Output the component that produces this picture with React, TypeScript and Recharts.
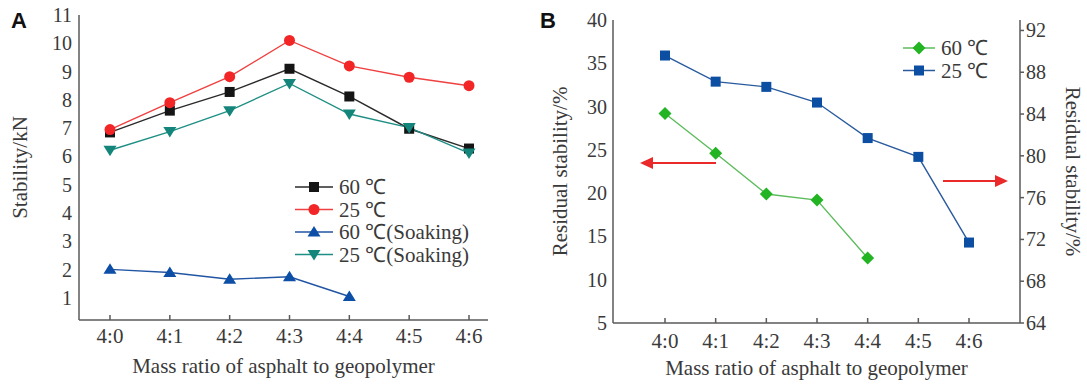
import React from "react";
import { LineChart, Line, XAxis, YAxis, Legend } from "recharts";

// mass ratio asphalt : geopolymer
const ratios = ["4:0", "4:1", "4:2", "4:3", "4:4", "4:5", "4:6"];

// panel A, stability in kN
const stab60 = [6.85, 7.62, 8.28, 9.1, 8.12, 6.98, 6.28];
const stab25 = [6.95, 7.9, 8.82, 10.1, 9.2, 8.8, 8.5];
const stab60Soak = [2.01, 1.9, 1.66, 1.75, 1.05, null, null];
const stab25Soak = [6.22, 6.88, 7.62, 8.58, 7.5, 7.02, 6.12];
const stabTicks = [1, 2, 3, 4, 5, 6, 7, 8, 9, 10, 11];

// panel B, residual stability in %
const resid60 = [29.2, 24.6, 19.9, 19.2, 12.5, null, null];
const resid25 = [89.6, 87.1, 86.6, 85.1, 81.7, 79.9, 71.7];
const residLeftTicks = [5, 10, 15, 20, 25, 30, 35, 40];
const residRightTicks = [64, 68, 72, 76, 80, 84, 88, 92];

const dataA = ratios.map((r, i) => ({
  ratio: r,
  s60: stab60[i],
  s25: stab25[i],
  s60s: stab60Soak[i],
  s25s: stab25Soak[i],
}));

const dataB = ratios.map((r, i) => ({
  ratio: r,
  r60: resid60[i],
  r25: resid25[i],
}));

const FONT = '"Liberation Serif", "Times New Roman", serif';
const TXT = "#3a3a3a";
const AXIS = "#5a5a5a";
const serif = { fontFamily: FONT };

type Shape = "square" | "circle" | "up" | "down" | "diamond";

function marker(shape: Shape, cx: number, cy: number, fill: string, size = 10) {
  const h = size / 2;
  switch (shape) {
    case "square":
      return <rect x={cx - h} y={cy - h} width={size} height={size} fill={fill} />;
    case "circle":
      return <circle cx={cx} cy={cy} r={h + 0.5} fill={fill} />;
    case "up":
      return (
        <polygon
          points={`${cx},${cy - h - 1} ${cx - h - 1.5},${cy + h - 0.5} ${cx + h + 1.5},${cy + h - 0.5}`}
          fill={fill}
        />
      );
    case "down":
      return (
        <polygon
          points={`${cx},${cy + h + 1} ${cx - h - 1.5},${cy - h + 0.5} ${cx + h + 1.5},${cy - h + 0.5}`}
          fill={fill}
        />
      );
    default:
      return (
        <polygon
          points={`${cx},${cy - h - 1.5} ${cx + h + 1.5},${cy} ${cx},${cy + h + 1.5} ${cx - h - 1.5},${cy}`}
          fill={fill}
        />
      );
  }
}

const dotOf = (shape: Shape, fill: string, size?: number) => (p: any) => {
  const { cx, cy, index } = p;
  if (cx == null || cy == null || p.value == null || Number.isNaN(cy)) return <g key={`e${index}`} />;
  return <g key={`d${index}`}>{marker(shape, cx, cy, fill, size)}</g>;
};

interface Series {
  key: string;
  name: string;
  line: string;
  fill: string;
  shape: Shape;
  size?: number;
}

const seriesA: Series[] = [
  { key: "s60", name: "60 ℃", line: "#2a2a2a", fill: "#151515", shape: "square" },
  { key: "s25", name: "25 ℃", line: "#f04040", fill: "#f22626", shape: "circle" },
  { key: "s60s", name: "60 ℃(Soaking)", line: "#2155a3", fill: "#0d4ea6", shape: "up" },
  { key: "s25s", name: "25 ℃(Soaking)", line: "#1f8f86", fill: "#14857b", shape: "down" },
];

const seriesB: Series[] = [
  { key: "r60", name: "60 ℃", line: "#5cbc5c", fill: "#22b422", shape: "diamond", size: 10 },
  { key: "r25", name: "25 ℃", line: "#2a5a9e", fill: "#0c4ea2", shape: "square", size: 10 },
];

const legendOf = (items: Series[], lineLen: number) => () => (
  <svg width={220} height={items.length * 22.5 + 6} style={{ display: "block" }}>
    {items.map((s, i) => {
      const y = 11 + i * 22.5;
      return (
        <g key={s.key}>
          <line x1={5} x2={5 + lineLen} y1={y} y2={y} stroke={s.line} strokeWidth={1.5} />
          {marker(s.shape, 5 + lineLen / 2, y, s.fill, s.size ?? 10)}
          <text x={11 + lineLen} y={y} dy="0.35em" fontSize={21} style={serif} fill={TXT}>
            {s.name}
          </text>
        </g>
      );
    })}
  </svg>
);

// tick renderers, so the serif face is surely used
const xTick = (p: any) => (
  <text x={p.x} y={p.y} dy="0.71em" textAnchor="middle" fontSize={21} style={serif} fill={TXT}>
    {p.payload.value}
  </text>
);
const yTickL = (p: any) => (
  <text x={p.x} y={p.y} dy="0.35em" textAnchor="end" fontSize={20} style={serif} fill={TXT}>
    {p.payload.value}
  </text>
);
const yTickR = (p: any) => (
  <text x={p.x} y={p.y} dy="0.35em" textAnchor="start" fontSize={20} style={serif} fill={TXT}>
    {p.payload.value}
  </text>
);

const yTitle = (text: string, x: number, angle: number) => (p: any) => {
  const vb = p.viewBox || { y: 0, height: 300 };
  const cy = vb.y + vb.height / 2;
  return (
    <text
      x={x}
      y={cy}
      transform={`rotate(${angle} ${x} ${cy})`}
      textAnchor="middle"
      dominantBaseline="central"
      fontSize={21}
      style={serif}
      fill={TXT}
    >
      {text}
    </text>
  );
};

const xTitle = (text: string, y: number) => (p: any) => {
  const vb = p.viewBox || { x: 0, width: 400 };
  return (
    <text x={vb.x + vb.width / 2} y={y} textAnchor="middle" fontSize={21} style={serif} fill={TXT}>
      {text}
    </text>
  );
};

function ChartA() {
  return (
    <LineChart width={500} height={385} data={dataA} margin={{ top: 15, right: 12, left: 0, bottom: 35 }}>
      <XAxis
        dataKey="ratio"
        height={30}
        padding={{ left: 31, right: 19 }}
        interval={0}
        tickSize={-5}
        tickMargin={13}
        tick={xTick}
        stroke={AXIS}
        strokeWidth={1.5}
        label={{ content: xTitle("Mass ratio of asphalt to geopolymer", 373) }}
      />
      <XAxis xAxisId="top" dataKey="ratio" orientation="top" height={0} tick={false} tickLine={false} stroke={AXIS} strokeWidth={1.5} />
      <YAxis
        width={79}
        domain={[0.22, 11]}
        ticks={stabTicks}
        allowDataOverflow
        tickSize={0}
        tickMargin={7}
        tick={yTickL}
        stroke={AXIS}
        strokeWidth={1.5}
        label={{ content: yTitle("Stability/kN", 20, -90) }}
      />
      <YAxis yAxisId="frame" orientation="right" width={0} domain={[0.22, 11]} tick={false} tickLine={false} stroke={AXIS} strokeWidth={1.5} />
      <Legend
        layout="vertical"
        align="center"
        verticalAlign="middle"
        wrapperStyle={{ left: 290, top: 176, width: 220 }}
        content={legendOf(seriesA, 38)}
      />
      {seriesA.map((s) => (
        <Line
          key={s.key}
          dataKey={s.key}
          name={s.name}
          stroke={s.line}
          strokeWidth={1.4}
          dot={dotOf(s.shape, s.fill, s.size)}
          activeDot={false}
          isAnimationActive={false}
        />
      ))}
    </LineChart>
  );
}

function ChartB() {
  return (
    <LineChart width={557} height={385} data={dataB} margin={{ top: 20, right: 0, left: 0, bottom: 32 }}>
      <XAxis
        dataKey="ratio"
        height={30}
        padding={{ left: 52, right: 51 }}
        interval={0}
        tickSize={-5}
        tickMargin={15}
        tick={xTick}
        stroke={AXIS}
        strokeWidth={1.5}
        label={{ content: xTitle("Mass ratio of asphalt to geopolymer", 375) }}
      />
      <XAxis xAxisId="top" dataKey="ratio" orientation="top" height={0} tick={false} tickLine={false} stroke="#333" strokeWidth={1.5} />
      <YAxis
        yAxisId="left"
        width={83}
        domain={[5, 40]}
        ticks={residLeftTicks}
        allowDataOverflow
        tickSize={0}
        tickMargin={6}
        tick={yTickL}
        stroke={AXIS}
        strokeWidth={1.5}
        label={{ content: yTitle("Residual stability/%", 30, -90) }}
      />
      <YAxis
        yAxisId="right"
        orientation="right"
        width={67}
        domain={[64, 93]}
        ticks={residRightTicks}
        allowDataOverflow
        tickSize={4}
        tickMargin={2}
        tick={yTickR}
        stroke={AXIS}
        strokeWidth={1.5}
        label={{ content: yTitle("Residual stability/%", 543, 90) }}
      />
      <Legend
        layout="vertical"
        align="center"
        verticalAlign="middle"
        wrapperStyle={{ left: 368, top: 37, width: 220 }}
        content={legendOf(seriesB, 32)}
      />
      <Line
        yAxisId="left"
        dataKey="r60"
        name={seriesB[0].name}
        stroke={seriesB[0].line}
        strokeWidth={1.4}
        dot={dotOf("diamond", seriesB[0].fill, 10)}
        activeDot={false}
        isAnimationActive={false}
      />
      <Line
        yAxisId="right"
        dataKey="r25"
        name={seriesB[1].name}
        stroke={seriesB[1].line}
        strokeWidth={1.4}
        dot={dotOf("square", seriesB[1].fill, 10)}
        activeDot={false}
        isAnimationActive={false}
      />
    </LineChart>
  );
}

export default function App() {
  return (
    <div style={{ position: "absolute", left: 0, top: 0, width: 1087, height: 385, background: "#fff", fontFamily: FONT }}>
      <div style={{ position: "absolute", left: 0, top: 0 }}>
        <ChartA />
      </div>
      <div style={{ position: "absolute", left: 530, top: 0 }}>
        <ChartB />
      </div>
      <svg width={1087} height={385} style={{ position: "absolute", left: 0, top: 0, pointerEvents: "none" }}>
        <text x={11} y={28} fontSize={22} fontWeight="bold" style={{ fontFamily: '"Liberation Sans", Arial, sans-serif' }} fill="#111">
          A
        </text>
        <text x={540} y={28} fontSize={22} fontWeight="bold" style={{ fontFamily: '"Liberation Sans", Arial, sans-serif' }} fill="#111">
          B
        </text>
        {/* arrows pointing to the axis each series belongs to */}
        <line x1={716} x2={650} y1={163} y2={163} stroke="#ea2a2a" strokeWidth={2} />
        <polygon points="640,163 653,157 653,169" fill="#ea2a2a" />
        <line x1={943} x2={997} y1={181} y2={181} stroke="#ea2a2a" strokeWidth={2} />
        <polygon points="1008,181 995,175 995,187" fill="#ea2a2a" />
      </svg>
    </div>
  );
}
